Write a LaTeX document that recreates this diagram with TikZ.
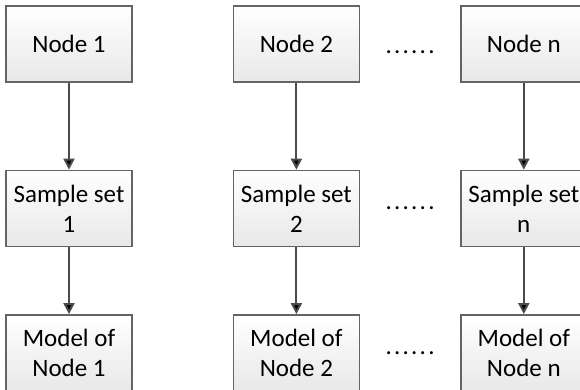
\documentclass[tikz,border=0pt]{standalone}
\usepackage{fontspec}
\setmainfont{Carlito}
\newfontfamily\dotsfont[LetterSpace=9]{Carlito}
\usetikzlibrary{positioning,arrows.meta}
\definecolor{boxline}{RGB}{100,100,100}
\definecolor{arrowline}{RGB}{75,75,75}

\begin{document}
\begin{tikzpicture}[x=1pt,y=1pt,node distance=87pt and 100pt,
		main node/.style={rectangle,draw=boxline,line width=1.4pt,top color=white,bottom color=gray!18,
			minimum width=126pt,minimum height=76pt,inner sep=2pt,align=center,font=\fontsize{25}{30}\selectfont},
		dots node/.style={font=\fontsize{25}{30}\dotsfont},
		link/.style={-{Triangle[width=11pt,length=11pt]},draw=arrowline,line width=2pt}]
		
		\clip (0,0) rectangle (580,-389);
		
		\node[main node] (n1) at (69,-44) {Node 1};
		\node[main node] (n2) [right=of n1] {Node 2};
		\node[main node] (nn) [right=of n2] {Node n};
		
		\node[main node] (s1) [below=of n1] {Sample set\\1};
		\node[main node] (s2) [below=of n2] {Sample set\\2};
		\node[main node] (sn) [below=of nn] {Sample set\\n};
		
		\node[main node] (m1) [below=67pt of s1] {Model of\\Node 1};
		\node[main node] (m2) [below=67pt of s2] {Model of\\Node 2};
		\node[main node] (mn) [below=67pt of sn] {Model of\\Node n};
		
		% dots between column 2 and column n
		\path (n2) -- (nn) node[midway,dots node,yshift=-8pt] (d1) {......};
		\path (s2) -- (sn) node[midway,dots node] (d2) {......};
		\path (m2) -- (mn) node[midway,dots node] (d3) {......};
		
		\path[link]
		(n1) edge (s1)
		(s1) edge (m1)
		(n2) edge (s2)
		(s2) edge (m2)
		(nn) edge (sn)
		(sn) edge (mn);
\end{tikzpicture}
\end{document}
